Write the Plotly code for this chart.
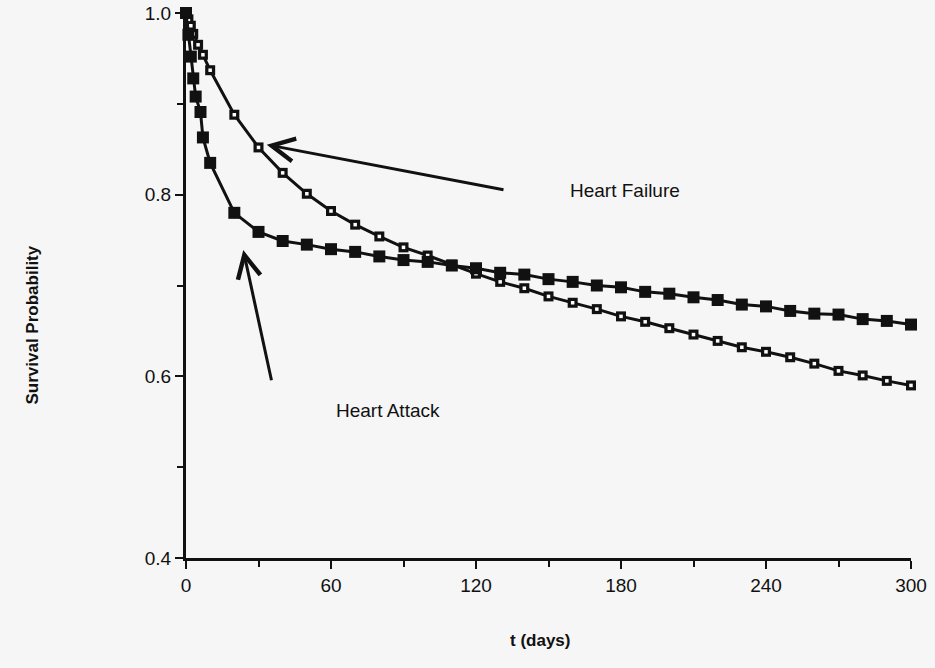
import plotly.graph_objects as go

# Heart Attack (filled squares)
days_attack = [0, 1, 2, 3, 4, 6, 7, 10, 20, 30, 40, 50, 60, 70, 80, 90, 100, 110, 120,
               130, 140, 150, 160, 170, 180, 190, 200, 210, 220, 230, 240, 250, 260,
               270, 280, 290, 300]
surv_attack = [1.0, 0.976, 0.952, 0.928, 0.908, 0.891, 0.863, 0.835, 0.780, 0.759, 0.749,
               0.745, 0.740, 0.737, 0.732, 0.728, 0.726, 0.722, 0.719, 0.714, 0.712, 0.707,
               0.704, 0.700, 0.698, 0.693, 0.691, 0.687, 0.684, 0.679, 0.677, 0.672, 0.669,
               0.668, 0.663, 0.661, 0.657]

# Heart Failure (open squares)
days_failure = [0, 1, 2, 3, 5, 7, 10, 20, 30, 40, 50, 60, 70, 80, 90, 100, 110, 120, 130,
                140, 150, 160, 170, 180, 190, 200, 210, 220, 230, 240, 250, 260, 270, 280,
                290, 300]
surv_failure = [1.0, 0.993, 0.986, 0.977, 0.965, 0.954, 0.937, 0.888, 0.852, 0.824, 0.801,
                0.782, 0.767, 0.754, 0.742, 0.733, 0.723, 0.713, 0.704, 0.697, 0.688, 0.681,
                0.674, 0.666, 0.660, 0.653, 0.646, 0.639, 0.632, 0.627, 0.621, 0.614, 0.606,
                0.601, 0.595, 0.590]

x_ticks = [0, 60, 120, 180, 240, 300]
y_ticks = [0.4, 0.6, 0.8, 1.0]
y_tick_text = ["0.4", "0.6", "0.8", "1.0"]

FONT = "Liberation Sans, Arial, Helvetica, sans-serif"
BG = "#f6f6f6"
INK = "#111111"

fig = go.Figure()

# Heart failure: line + black squares with white centres
fig.add_trace(go.Scatter(
    x=days_failure, y=surv_failure, mode="lines+markers",
    line=dict(color=INK, width=3),
    marker=dict(symbol="square", size=10, color=INK, line=dict(width=0)),
    cliponaxis=False, showlegend=False, hoverinfo="skip"))
fig.add_trace(go.Scatter(
    x=days_failure, y=surv_failure, mode="markers",
    marker=dict(symbol="square", size=3.5, color="white", line=dict(width=0)),
    cliponaxis=False, showlegend=False, hoverinfo="skip"))

# Heart attack: line + filled squares
fig.add_trace(go.Scatter(
    x=days_attack, y=surv_attack, mode="lines+markers",
    line=dict(color=INK, width=3),
    marker=dict(symbol="square", size=12, color=INK, line=dict(width=0)),
    cliponaxis=False, showlegend=False, hoverinfo="skip"))

axis_common = dict(
    showline=True, linecolor=INK, linewidth=3, mirror=False, automargin=False,
    showgrid=False, zeroline=False, ticks="outside", ticklen=8, tickwidth=2,
    tickcolor=INK, tickfont=dict(family=FONT, size=19, color=INK),
)

fig.update_xaxes(range=[0, 300], tickvals=x_ticks, ticktext=[str(v) for v in x_ticks],
                 minor=dict(dtick=30, tick0=0, ticks="outside", ticklen=6, tickwidth=2,
                            tickcolor=INK),
                 **axis_common)
fig.update_yaxes(range=[0.4, 1.0], tickvals=y_ticks, ticktext=y_tick_text,
                 minor=dict(dtick=0.1, tick0=0.4, ticks="outside", ticklen=6, tickwidth=2,
                            tickcolor=INK),
                 **axis_common)

annotations = [
    # arrows
    dict(x=33.4, y=0.855, ax=132, ay=0.805, xref="x", yref="y", axref="x", ayref="y",
         text="", showarrow=True, arrowhead=5, arrowsize=1.5, arrowwidth=3,
         arrowcolor=INK),
    dict(x=23.7, y=0.739, ax=35.5, ay=0.594, xref="x", yref="y", axref="x", ayref="y",
         text="", showarrow=True, arrowhead=5, arrowsize=1.5, arrowwidth=3,
         arrowcolor=INK),
    # labels
    dict(x=181.5, y=0.805, xref="x", yref="y", text="Heart Failure", showarrow=False,
         font=dict(family=FONT, size=19, color=INK)),
    dict(x=83.6, y=0.562, xref="x", yref="y", text="Heart Attack", showarrow=False,
         font=dict(family=FONT, size=19, color=INK)),
    # axis titles (pixel positions converted below)
    dict(x=20, y=325, xref="paper", yref="paper", text="<b>Survival Probability</b>",
         showarrow=False, textangle=-90,
         font=dict(family=FONT, size=17, color=INK)),
    dict(x=540, y=652, xref="paper", yref="paper", text="<b>t (days)</b>",
         showarrow=False, font=dict(family=FONT, size=17, color=INK)),
]

W, H = 935, 668
ML, MR, MT, MB = 186, 24, 13, 110
pw, ph = W - ML - MR, H - MT - MB
for a in annotations[-2:]:
    a["x"] = (a["x"] - ML) / pw
    a["y"] = (H - MB - a["y"]) / ph

fig.update_layout(
    width=W, height=H,
    margin=dict(l=ML, r=MR, t=MT, b=MB, pad=0, autoexpand=False),
    paper_bgcolor=BG, plot_bgcolor=BG,
    annotations=annotations,
    font=dict(family=FONT, color=INK),
)

fig.write_html("out.html")
